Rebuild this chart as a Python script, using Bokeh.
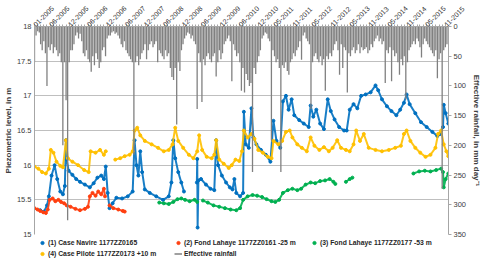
from datetime import datetime, timedelta
from math import pi
import numpy as np
from bokeh.plotting import figure
from bokeh.layouts import column
from bokeh.models import Range1d, LinearAxis, FixedTicker, Legend, LegendItem
from bokeh.embed import file_html
from bokeh.resources import INLINE

# ---------------- data ----------------
tick_labels = ["01-2005", "06-2005", "12-2005", "06-2006", "12-2006", "06-2007", "12-2007",
               "06-2008", "12-2008", "06-2009", "12-2009", "06-2010", "12-2010", "05-2011",
               "11-2011", "05-2012", "11-2012", "05-2013", "11-2013", "05-2014", "11-2014",
               "05-2015", "11-2015"]

# (1) Case Navire 1177ZZ0165  (decimal year, level m)
navire_t = [2005.15, 2005.25, 2005.33, 2005.38, 2005.45, 2005.53, 2005.60, 2005.68, 2005.75, 2005.80,
            2005.83, 2005.85, 2005.90, 2006.00, 2006.10, 2006.20, 2006.33, 2006.46, 2006.56, 2006.66,
            2006.76, 2006.83, 2006.88, 2006.93, 2006.98, 2007.06, 2007.16, 2007.31, 2007.46, 2007.59,
            2007.64, 2007.69, 2007.74, 2007.79, 2007.84, 2007.91, 2008.04, 2008.21, 2008.39, 2008.54,
            2008.61, 2008.66, 2008.71, 2008.79, 2008.87, 2008.94, 2009.10, 2009.28, 2009.29, 2009.30,
            2009.32, 2009.39, 2009.52, 2009.64, 2009.74, 2009.79, 2009.84, 2009.94, 2010.05, 2010.15,
            2010.22, 2010.27, 2010.32, 2010.42, 2010.50, 2010.52, 2010.57, 2010.65, 2010.72, 2010.77,
            2010.85, 2010.97, 2011.10, 2011.22, 2011.30, 2011.38, 2011.48, 2011.55, 2011.63, 2011.70,
            2011.78, 2011.85, 2011.98, 2012.10, 2012.23, 2012.28, 2012.35, 2012.43, 2012.53, 2012.63,
            2012.73, 2012.81, 2012.91, 2013.03, 2013.16, 2013.23, 2013.31, 2013.41, 2013.51, 2013.61,
            2013.73, 2013.86, 2013.99, 2014.06, 2014.16, 2014.29, 2014.41, 2014.54, 2014.64, 2014.74,
            2014.81, 2014.89, 2015.04, 2015.19, 2015.34, 2015.49, 2015.62, 2015.69, 2015.77, 2015.79,
            2015.84, 2015.91]
navire_h = [15.35, 15.33, 15.42, 15.55, 15.85, 16.00, 15.80, 15.62, 15.58, 15.70,
            16.36, 16.08, 15.92, 15.86, 15.80, 15.76, 15.72, 15.68, 15.74, 15.82,
            15.85, 15.80, 15.98, 15.60, 15.38, 15.45, 15.53, 15.52, 15.55, 15.62,
            16.36, 16.00, 15.85, 16.20, 15.90, 15.65, 15.60, 15.55, 15.50, 15.55,
            15.75, 16.36, 16.10, 15.90, 15.75, 15.62, float("nan"), 15.75, 16.09, 15.10,
            15.78, 15.80, 15.72, 15.66, 15.64, 16.36, 16.00, 15.85, 15.75, 15.68,
            15.65, 15.80, 15.60, 15.55, 15.60, 16.77, 16.30, 16.25, 16.82, 16.40,
            16.30, 16.22, 16.15, 16.05, 16.64, 16.35, 16.25, 16.92, 17.00, 16.80,
            16.95, 16.72, 16.65, 16.60, 16.55, 16.86, 16.70, 16.80, 16.60, 16.52,
            16.95, 16.78, 16.66, 16.55, 16.50, 16.50, 16.80, 16.88, 16.82, 17.00,
            17.02, 17.05, 17.15, 17.08, 16.95, 16.85, 16.78, 16.72, 16.80, 16.90,
            17.02, 16.88, 16.75, 16.62, 16.55, 16.48, 16.42, 16.45, 16.55, 16.87,
            16.75, 16.60]

# (2) Fond Lahaye 1177ZZ0161 -25 m
lahaye25_t = [2005.00, 2005.08, 2005.15, 2005.23, 2005.30, 2005.35, 2005.40, 2005.48, 2005.55, 2005.63,
              2005.70, 2005.78, 2005.85, 2005.95, 2006.08, 2006.20, 2006.33, 2006.41, 2006.46, 2006.53,
              2006.61, 2006.68, 2006.76, 2006.83, 2006.86, 2006.92, 2006.98, 2007.08, 2007.21, 2007.33,
              2007.38]
lahaye25_h = [15.38, 15.36, 15.34, 15.32, 15.31, 15.36, 15.50, 15.52, 15.48, 15.50,
              15.47, 15.45, 15.42, 15.40, 15.37, 15.35, 15.37, 15.40, 15.55, 15.60,
              15.56, 15.62, 15.58, 15.66, 15.55, float("nan"), 15.42, 15.38, 15.36, 15.34,
              15.33]

# (3) Fond Lahaye 1177ZZ0177 -53 m
lahaye53_t = [2008.29, 2008.41, 2008.54, 2008.66, 2008.77, 2008.87, 2008.97, 2009.09, 2009.22, 2009.29,
              2009.36, 2009.44, 2009.57, 2009.72, 2009.87, 2010.02, 2010.17, 2010.32, 2010.42, 2010.50,
              2010.62, 2010.75, 2010.87, 2011.00, 2011.12, 2011.25, 2011.35, 2011.45, 2011.55, 2011.68,
              2011.80, 2011.93, 2012.03, 2012.15, 2012.28, 2012.40, 2012.53, 2012.66, 2012.78, 2012.88,
              2012.93, 2013.05, 2013.21, 2013.31, 2013.38, 2014.50, 2014.99, 2015.14, 2015.29, 2015.44,
              2015.59, 2015.72, 2015.77, 2015.79, 2015.84, 2015.91]
lahaye53_h = [15.46, 15.45, 15.44, 15.47, 15.51, 15.52, 15.50, 15.48, 15.50, 15.47,
              float("nan"), 15.49, 15.46, 15.42, 15.40, 15.38, 15.36, 15.35, 15.38, 15.50,
              15.55, 15.57, 15.56, 15.54, 15.51, 15.48, 15.47, 15.50, 15.60, 15.64,
              15.66, 15.64, 15.66, 15.72, 15.75, 15.74, 15.77, 15.78, 15.80, 15.76,
              15.73, float("nan"), 15.76, 15.80, 15.82, float("nan"), 15.88, 15.91, 15.92, 15.91,
              15.93, 15.95, 15.90, 15.68, 15.80, 15.88]

# (4) Case Pilote 1177ZZ0173 +10 m
pilote_t = [2005.00, 2005.10, 2005.20, 2005.30, 2005.38, 2005.43, 2005.50, 2005.58, 2005.68, 2005.75,
            2005.83, 2005.88, 2006.00, 2006.15, 2006.31, 2006.43, 2006.48, 2006.61, 2006.73, 2006.83,
            2006.88, 2007.00, 2007.13, 2007.26, 2007.38, 2007.51, 2007.59, 2007.64, 2007.71, 2007.79,
            2007.91, 2008.09, 2008.26, 2008.41, 2008.54, 2008.64, 2008.71, 2008.79, 2008.92, 2009.07,
            2009.19, 2009.29, 2009.34, 2009.42, 2009.54, 2009.67, 2009.74, 2009.79, 2009.87, 2009.99,
            2010.12, 2010.20, 2010.30, 2010.40, 2010.47, 2010.52, 2010.62, 2010.72, 2010.80, 2010.90,
            2011.02, 2011.15, 2011.25, 2011.30, 2011.43, 2011.53, 2011.63, 2011.73, 2011.80, 2011.93,
            2012.05, 2012.18, 2012.28, 2012.38, 2012.51, 2012.63, 2012.76, 2012.86, 2012.98, 2013.08,
            2013.21, 2013.31, 2013.41, 2013.48, 2013.58, 2013.68, 2013.81, 2013.99, 2014.16, 2014.34,
            2014.51, 2014.66, 2014.74, 2014.81, 2014.91, 2015.04, 2015.17, 2015.31, 2015.44, 2015.57,
            2015.64, 2015.72, 2015.79, 2015.86, 2015.91]
pilote_h = [15.98, 15.95, 15.90, 15.88, 15.95, 16.22, 16.18, 16.05, 15.99, 15.97,
            16.36, 16.10, 16.05, 16.00, 15.93, 15.90, 16.20, 16.18, 16.22, 16.15,
            16.20, float("nan"), 16.08, 16.10, 16.13, 16.15, 16.20, 16.50, 16.54, 16.43,
            16.35, 16.30, 16.25, 16.20, 16.22, 16.30, 16.54, 16.35, 16.25, 16.15,
            16.10, 16.20, 16.43, 16.22, 16.12, 16.10, 16.15, 16.36, 16.08, 16.02,
            15.96, 16.00, 16.08, 16.06, 16.20, 16.50, 16.40, 16.45, 16.38, 16.22,
            16.18, 16.12, 16.10, 16.35, 16.30, 16.35, 16.48, 16.50, 16.40, 16.30,
            16.25, 16.20, 16.40, 16.28, 16.22, 16.26, 16.20, 16.25, 16.36, 16.25,
            16.22, 16.20, 16.30, 16.50, 16.35, 16.45, 16.25, 16.22, 16.20, 16.22,
            16.25, 16.28, 16.45, 16.50, 16.35, 16.25, 16.18, 16.12, 16.15, 16.25,
            16.45, 16.50, 16.30, 16.20, 16.13]

# Effective rainfall, mm/day, two values per month (1st and 16th)
rain_2005 = [60, 15, 8, 10, 30, 40, 25, 45, 100, 35, 40, 30, 45, 35, 40, 50, 45, 60, 200, 60, 124, 326, 60, 40]
rain_2006 = [40, 30, 15, 10, 20, 12, 25, 45, 50, 40, 55, 60, 76, 50, 65, 45, 55, 70, 60, 40, 35, 50, 20, 15]
rain_2007 = [15, 10, 8, 12, 10, 15, 20, 30, 35, 25, 40, 45, 50, 55, 60, 216, 60, 50, 65, 55, 45, 40, 30, 55]
rain_2008 = [40, 30, 25, 35, 30, 25, 60, 40, 45, 50, 55, 40, 50, 45, 70, 85, 90, 70, 165, 60, 75, 40, 30, 20]
rain_2009 = [15, 10, 12, 20, 15, 25, 30, 139, 45, 60, 127, 55, 65, 50, 45, 55, 60, 50, 45, 84, 60, 40, 55, 45]
rain_2010 = [30, 25, 20, 15, 25, 92, 30, 40, 50, 45, 60, 108, 70, 111, 80, 90, 100, 95, 245, 70, 80, 60, 50, 40]
rain_2011 = [20, 15, 10, 12, 20, 25, 192, 40, 50, 60, 55, 70, 245, 65, 70, 60, 75, 81, 60, 55, 45, 50, 40, 35]
rain_2012 = [25, 56, 15, 10, 20, 25, 30, 139, 60, 50, 45, 55, 60, 50, 65, 55, 108, 50, 55, 45, 50, 40, 30, 25]
rain_2013 = [40, 81, 30, 70, 35, 40, 111, 45, 50, 40, 35, 45, 40, 30, 45, 35, 40, 38, 35, 45, 40, 30, 35, 25]
rain_2014 = [20, 15, 25, 20, 30, 25, 95, 40, 45, 35, 92, 40, 50, 45, 60, 81, 55, 65, 50, 123, 60, 40, 35, 30]
rain_2015 = [25, 30, 20, 25, 35, 52, 30, 20, 25, 30, 35, 40, 45, 50, 40, 87, 55, 45, 273, 40, 35, 30]

# ---------------- helpers ----------------
def to_dt(t):
    y = int(t)
    a, b = datetime(y, 1, 1), datetime(y + 1, 1, 1)
    return a + (b - a) * (t - y)

def ms(d):
    return (d - datetime(1970, 1, 1)).total_seconds() * 1000.0

years = list(range(2005, 2016))
rain_lists = [rain_2005, rain_2006, rain_2007, rain_2008, rain_2009, rain_2010,
              rain_2011, rain_2012, rain_2013, rain_2014, rain_2015]
rain_d, rain_v = [], []
for y, vals in zip(years, rain_lists):
    for i, v in enumerate(vals):
        rain_d.append(datetime(y, i // 2 + 1, 1 if i % 2 == 0 else 16))
        rain_v.append(v)

tick_dates = [datetime(int(s[3:]), int(s[:2]), 1) for s in tick_labels]
tick_ms = [ms(d) for d in tick_dates]
minor_dates = [datetime(2005 + m // 12, m % 12 + 1, 1) for m in range(0, 131)]

FONT = "Liberation Sans"
TXT = "#404040"
GRIDC = "#bfbfbf"

p = figure(width=484, height=238, output_backend="svg", toolbar_location=None,
           x_axis_type="datetime", x_axis_location="above",
           x_range=Range1d(datetime(2005, 1, 1), datetime(2015, 12, 1)),
           y_range=Range1d(15, 18),
           min_border_left=0, min_border_right=0, min_border_top=10, min_border_bottom=4)
p.outline_line_color = None
p.background_fill_color = "white"
p.border_fill_color = "white"

# top date axis with rotated labels
xa = p.xaxis[0]
xa.ticker = FixedTicker(ticks=tick_ms, minor_ticks=[ms(d) for d in minor_dates])
xa.major_label_overrides = {t: lab for t, lab in zip(tick_ms, tick_labels)}
xa.major_label_orientation = pi / 4
xa.major_label_text_font = FONT
xa.major_label_text_font_size = "7px"
xa.major_label_text_color = "#333333"
xa.major_label_standoff = -2
xa.axis_line_color = "#a6a6a6"
xa.major_tick_line_color = "#a6a6a6"
xa.minor_tick_line_color = "#a6a6a6"
xa.major_tick_out = 3
xa.major_tick_in = 0
xa.minor_tick_out = 2
xa.minor_tick_in = 0
p.xgrid.visible = False

ya = p.yaxis[0]
lev_ticks = [15, 15.5, 16, 16.5, 17, 17.5, 18]
ya.ticker = FixedTicker(ticks=lev_ticks)
ya.major_label_overrides = {t: ("%g" % t) for t in lev_ticks}
ya.axis_label = "Piezometric level, in m"
ya.axis_label_text_font = FONT
ya.axis_label_text_font_size = "8px"
ya.axis_label_text_font_style = "bold"
ya.axis_label_text_color = TXT
ya.axis_label_standoff = 1
ya.major_label_text_font = FONT
ya.major_label_text_font_size = "7.5px"
ya.major_label_text_color = TXT
ya.major_label_standoff = 3
ya.major_tick_out = 0
ya.major_tick_in = 0
ya.minor_tick_out = 0
ya.minor_tick_line_color = None
ya.axis_line_color = "#a6a6a6"
p.ygrid.grid_line_color = GRIDC

p.extra_y_ranges = {"rain": Range1d(350, 0)}
ra = LinearAxis(y_range_name="rain", ticker=FixedTicker(ticks=list(range(0, 351, 50))),
                axis_label="Effective rainfall, in mm day\u207b\u00b9")
ra.axis_label_text_font = FONT
ra.axis_label_text_font_size = "8px"
ra.axis_label_text_font_style = "bold"
ra.axis_label_text_color = TXT
ra.axis_label_standoff = 3
ra.major_label_text_font = FONT
ra.major_label_text_font_size = "7.5px"
ra.major_label_text_color = TXT
ra.major_label_standoff = 2
ra.major_tick_out = 3
ra.major_tick_in = 0
ra.minor_tick_out = 0
ra.major_tick_line_color = "#a6a6a6"
ra.minor_tick_line_color = None
ra.axis_line_color = "#a6a6a6"
p.add_layout(ra, "right")

series = [
    ("(1) Case Navire 1177ZZ0165", navire_t, navire_h, "#0070C0"),
    ("(2) Fond Lahaye 1177ZZ0161 -25 m", lahaye25_t, lahaye25_h, "#FF3F0F"),
    ("(3) Fond Lahaye 1177ZZ0177 -53 m", lahaye53_t, lahaye53_h, "#00B050"),
    ("(4) Case Pilote 1177ZZ0173 +10 m", pilote_t, pilote_h, "#FFC000"),
]
for name, t, h, c in series:
    d = [to_dt(v) for v in t]
    p.line(d, h, line_color=c, line_width=2.0, line_alpha=0.9)
    p.scatter(d, h, size=3, color=c, marker="circle")

p.segment(x0=rain_d, y0=[0] * len(rain_v), x1=rain_d, y1=rain_v, y_range_name="rain",
          line_color="#808080", line_width=1.3)

# ---------------- legend strip (separate small figure) ----------------
q = figure(width=484, height=20, output_backend="svg", toolbar_location=None,
           x_range=Range1d(0, 1), y_range=Range1d(0, 1),
           x_axis_location=None, y_axis_location=None, min_border=0)
q.outline_line_color = None
q.grid.visible = False
proxy = {}
for name, t, h, c in series:   # legend proxies, placed outside the visible range
    proxy[name] = q.scatter(x=[5], y=[5], size=4, color=c, marker="circle")
rain_proxy = q.segment(x0=[5], y0=[5], x1=[6], y1=[6], line_color="#808080", line_width=1.5)

names = [s[0] for s in series]
items = [LegendItem(label=names[0], renderers=[proxy[names[0]]]),
         LegendItem(label=names[3], renderers=[proxy[names[3]]]),
         LegendItem(label=names[1], renderers=[proxy[names[1]]]),
         LegendItem(label="Effective rainfall", renderers=[rain_proxy]),
         LegendItem(label=names[2], renderers=[proxy[names[2]]])]
legend = Legend(items=items, ncols=3, location=(4, 0), margin=0, padding=0, spacing=2,
                label_text_font=FONT, label_text_font_size="6.8px", label_text_font_style="bold",
                label_text_color="#262626", label_height=9, glyph_height=9, glyph_width=8,
                label_width=124, label_standoff=2, border_line_color=None,
                background_fill_alpha=0)
q.add_layout(legend, "center")

open("out.html", "w").write(file_html(column(p, q, spacing=0), INLINE))
